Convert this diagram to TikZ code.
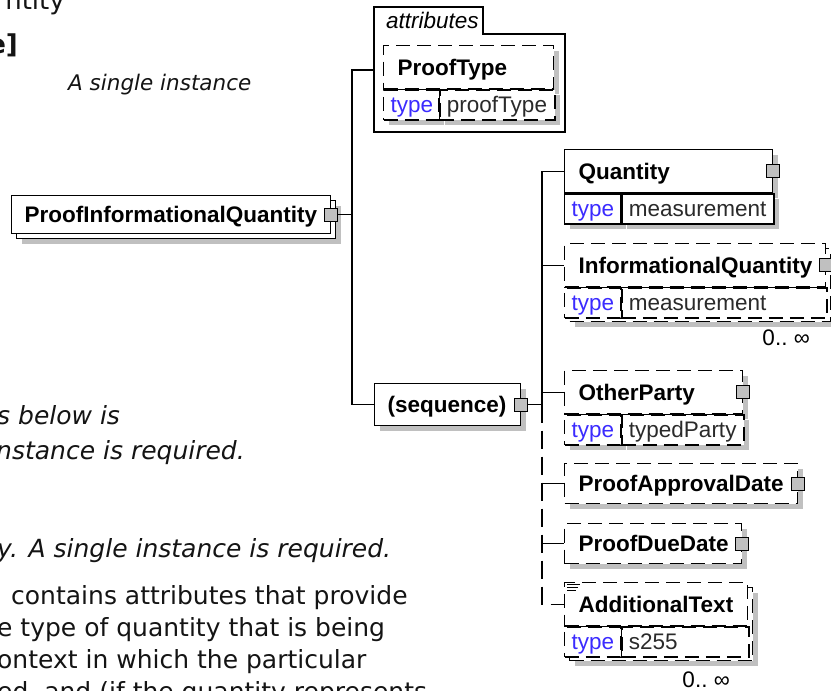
\documentclass[tikz,border=0pt]{standalone}
\usepackage{fontspec}
\setmainfont{DejaVu Sans}
\newfontfamily\xsdfont{Liberation Sans}
\usetikzlibrary{positioning, shadows}
\definecolor{shadowgray}{HTML}{C0C0C0}
\definecolor{typeblue}{HTML}{3B2BFF}
\definecolor{valtext}{HTML}{2A2A2A}
\definecolor{bodytext}{HTML}{141414}
\newcommand{\elnamefont}{\xsdfont\bfseries\fontsize{22.5}{26}\selectfont}
\newcommand{\eltypefont}{\xsdfont\fontsize{22.5}{26}\selectfont}
\newcommand{\bodyfont}{\fontsize{25}{30}\selectfont}
\tikzset{
  xsd/.style={line width=1.3pt},
  opt/.style={dash pattern=on 14pt off 7pt},
  elbox/.style={draw, fill=white, xsd, anchor=north west, inner xsep=14pt, inner ysep=0pt,
    minimum height=43pt, text height=16pt, text depth=0pt, align=left, font=\elnamefont},
  typecell/.style={draw, fill=white, xsd, anchor=north west, inner xsep=7pt, inner ysep=0pt,
    minimum height=30pt, text height=16pt, text depth=0pt, align=left, font=\eltypefont, text=valtext},
  boxshadow/.style={drop shadow={shadow xshift=5pt, shadow yshift=-5pt, fill=shadowgray, opacity=1}},
  connsq/.style={draw, fill=shadowgray, line width=1pt, minimum size=13pt, inner sep=0pt},
  body/.style={text=bodytext, inner sep=0pt},
  occurs/.style={font=\eltypefont, inner sep=0pt, anchor=base east},
}

\begin{document}
\begin{tikzpicture}[x=1pt, y=-1pt]
\useasboundingbox (0,0) rectangle (831,691);
\fill[white] (0,0) rectangle (831,691);

% page text round the diagram
\node[body, anchor=base east, font=\fontsize{26}{30}\selectfont] (head) at (65,9) {ntity};
\node[body, anchor=base east, font=\bfseries\fontsize{26}{30}\selectfont] (kind) at (18,53) {e]};
\node[body, anchor=base west, font=\itshape\fontsize{21.5}{26}\selectfont] (p1) at (68,90) {A single instance};
\node[body, anchor=base west, font=\itshape\bodyfont] (p2) at (-3,424) {s below is};
\node[body, anchor=base west, font=\itshape\bodyfont] (p3) at (-4,459) {nstance is required.};
\node[body, anchor=base west, font=\itshape\bodyfont] (p4) at (-3,557) {y. A single instance is required.};
\node[body, anchor=base west, font=\bodyfont] (p5) at (11,604) {contains attributes that provide};
\node[body, anchor=base west, font=\bodyfont] (p6) at (-3,636) {e type of quantity that is being};
\node[body, anchor=base west, font=\bodyfont] (p7) at (-3,668) {ontext in which the particular};
\node[body, anchor=base west, font=\bodyfont] (p8) at (-3,700) {ed, and (if the quantity represents};

% attributes
\draw[xsd] (374,132) -- (374,7) -- (483,7) -- (483,34) -- (565,34) -- (565,132) -- cycle;
\node[font=\xsdfont\itshape\fontsize{22.5}{26}\selectfont, anchor=base west, inner sep=0pt] (attrtab) at (386,28) {attributes};
\node[elbox, opt, boxshadow, text width=142pt] (ptype) at (383,45) {ProofType};
\node[typecell, opt, boxshadow, below right=0pt of ptype.south west, text width=41pt] (ptypek) {\textcolor{typeblue}{type}};
\node[typecell, opt, boxshadow, right=0pt of ptypek, text width=101pt] (ptypev) {proofType};
\draw[xsd] (ptype.south west) -- (ptype.south east);
\draw[xsd] (ptypek.north east) -- (ptypek.south east);

% root element
\node[elbox, boxshadow, minimum width=319pt, minimum height=38pt] (piqback) at (16,200) {};
\node[elbox, minimum height=38pt, inner xsep=13pt, text width=293pt] (piq) at (11,195) {ProofInformationalQuantity};
\node[connsq] (piqsq) at (piq.east) {};

% sequence
\node[elbox, boxshadow, minimum height=42pt, inner xsep=13pt, text width=120pt] (seq) at (374,383) {(sequence)};
\node[connsq] (seqsq) at (seq.east) {};

\coordinate (fork) at (352,0);
\coordinate (attrin) at (374,70);
\draw[xsd] (piqsq.east) -- (piqsq.east -| fork) |- (attrin);
\draw[xsd] (piqsq.east -| fork) |- (seq.west);

% children
\node[elbox, boxshadow, text width=180pt] (qty) at (564,149) {Quantity};
\node[typecell, boxshadow, below right=0pt of qty.south west, text width=42pt] (qtyk) {\textcolor{typeblue}{type}};
\node[typecell, boxshadow, right=0pt of qtyk, text width=138pt] (qtyv) {measurement};
\node[connsq] (qtysq) at (qty.east) {};

\node[elbox, opt, boxshadow, minimum width=261pt, minimum height=73pt] (iqback) at (569,248) {};
\node[elbox, opt, text width=233pt] (iq) at (564,243) {InformationalQuantity};
\node[typecell, opt, below right=0pt of iq.south west, text width=42pt] (iqk) {\textcolor{typeblue}{type}};
\node[typecell, opt, right=0pt of iqk, text width=191pt] (iqv) {measurement};
\draw[xsd] (iq.south west) -- (iq.south east);
\draw[xsd] (iqk.north east) -- (iqk.south east);
\node[connsq] (iqsq) at (iq.east) {};
\node[occurs] (iqocc) at (810,345) {0..~∞};

\node[elbox, opt, boxshadow, text width=150pt] (op) at (564,370) {OtherParty};
\node[typecell, opt, boxshadow, below right=0pt of op.south west, text width=42pt] (opk) {\textcolor{typeblue}{type}};
\node[typecell, opt, boxshadow, right=0pt of opk, text width=108pt] (opv) {typedParty};
\draw[xsd] (op.south west) -- (op.south east);
\draw[xsd] (opk.north east) -- (opk.south east);
\node[connsq] (opsq) at (op.east) {};

\node[elbox, opt, boxshadow, minimum height=40pt, text width=205pt] (pad) at (564,463) {ProofApprovalDate};
\node[connsq] (padsq) at (pad.east) {};

\node[elbox, opt, boxshadow, minimum height=40pt, text width=149pt] (pdd) at (564,523) {ProofDueDate};
\node[connsq] (pddsq) at (pdd.east) {};

\node[elbox, opt, boxshadow, minimum width=183pt, minimum height=73pt] (atback) at (569,587) {};
\node[elbox, opt, text width=155pt] (at) at (564,582) {AdditionalText};
\node[typecell, opt, below right=0pt of at.south west, text width=42pt] (atk) {\textcolor{typeblue}{type}};
\node[typecell, opt, right=0pt of atk, text width=113pt] (atv) {s255};
\draw[xsd] (at.south west) -- (at.south east);
\draw[xsd] (atk.north east) -- (atk.south east);
\draw[line width=0.8pt] (567,584) -- (580,584) (567,587) -- (578,587) (567,590) -- (576,590);
\node[occurs] (atocc) at (730,687) {0..~∞};

\coordinate (spine) at (542,0);
\draw[xsd] (qty.west) -| (seqsq.east -| spine);
\draw[xsd] (seqsq.east) -- (seqsq.east -| spine);
\draw[xsd, dash pattern=on 18pt off 8pt] (seqsq.east -| spine) |- (at.west);
\draw[xsd] (iq.west -| spine) -- (iq.west);
\draw[xsd] (op.west -| spine) -- (op.west);
\draw[xsd] (pad.west -| spine) -- (pad.west);
\draw[xsd] (pdd.west -| spine) -- (pdd.west);
\end{tikzpicture}
\end{document}
